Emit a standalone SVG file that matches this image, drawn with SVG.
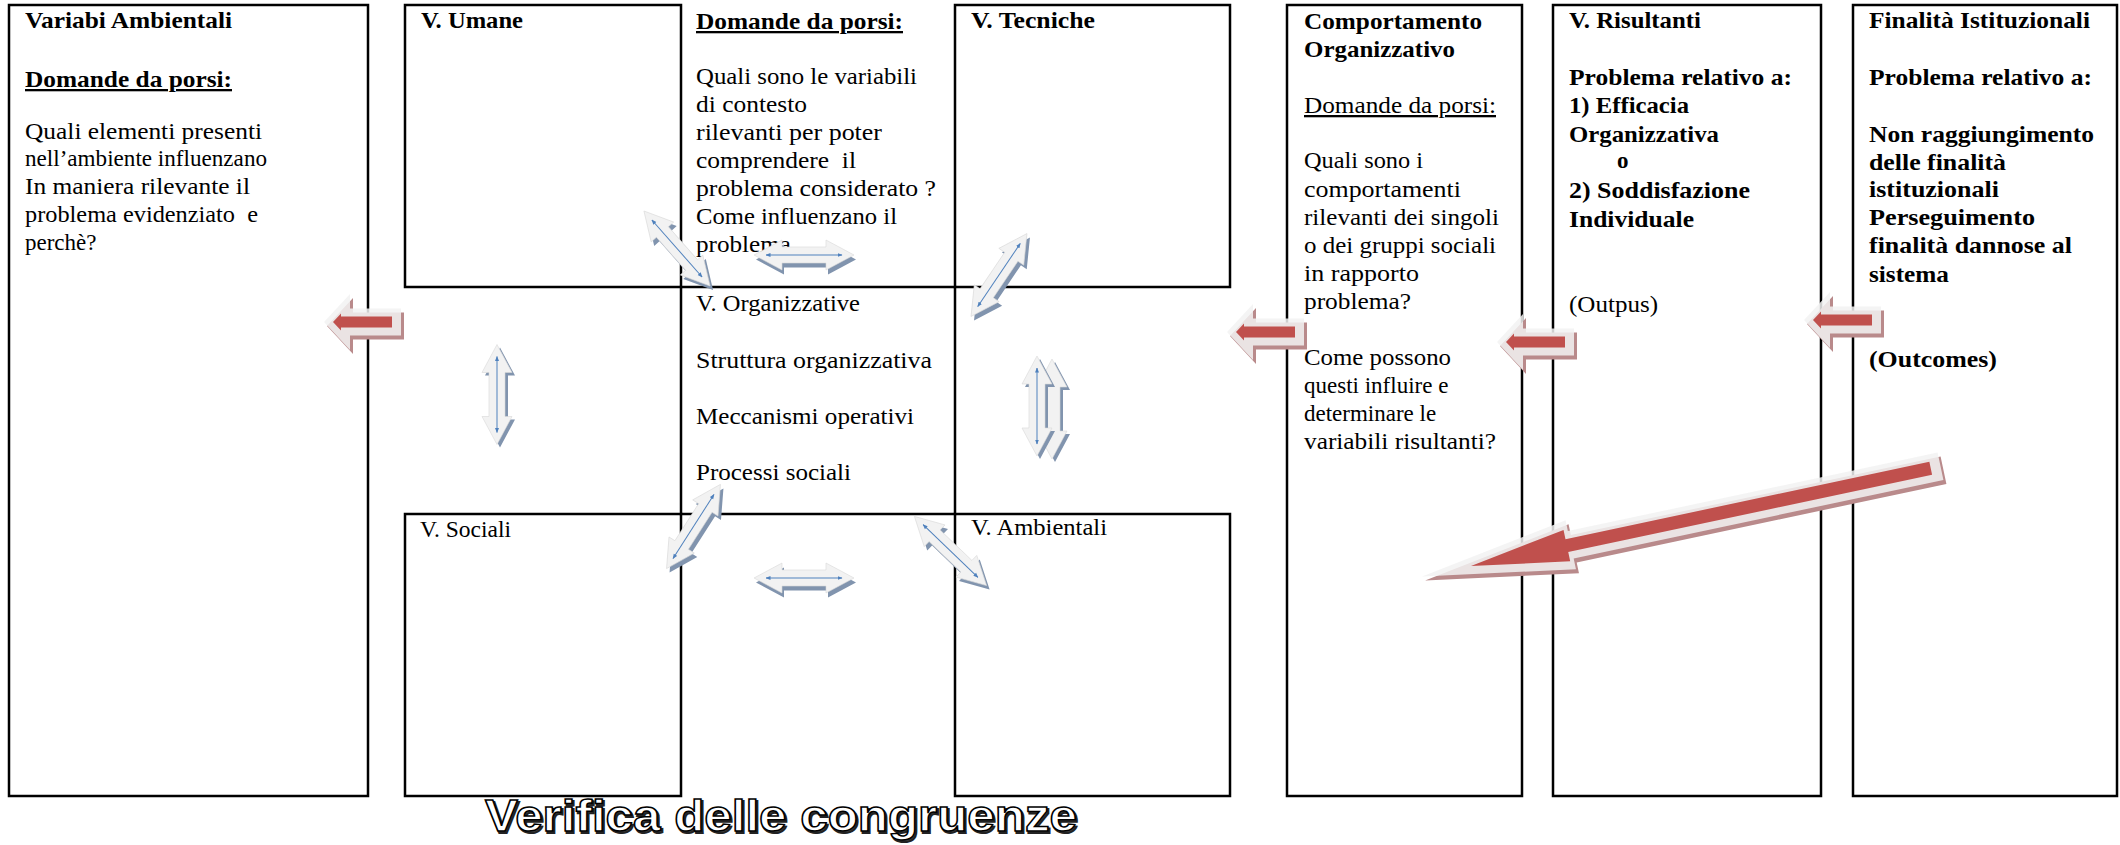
<svg xmlns="http://www.w3.org/2000/svg" xmlns:xlink="http://www.w3.org/1999/xlink" width="2120" height="845" viewBox="0 0 2120 845">
<style>
.bg{fill:#fff}
.box{fill:none;stroke:#000;stroke-width:2.5}
.t{font-family:"Liberation Serif","Times New Roman",serif;font-size:23px;fill:#000}
.b{font-weight:bold}
.u{text-decoration:underline}
.title{font-family:"Liberation Sans",Arial,sans-serif;font-weight:bold;font-size:45px}
.tf{fill:#fff;stroke:#000;stroke-width:1.5}
.ts{fill:#444;stroke:#222;stroke-width:2}
.gsh{fill:#8194ae}
.gface{fill:#f2f2f2;stroke:#d8d8d8;stroke-width:0.6}
.bl{stroke:#4f81bd;stroke-width:1;marker-start:url(#bh);marker-end:url(#bh)}
.rsh{fill:#b98a8b}
.rout{fill:#f2f2f2;fill-opacity:0.85}
.rin{fill:#c0504d}
</style>
<defs>
<marker id="bh" viewBox="0 0 10 10" refX="9" refY="5" markerWidth="5" markerHeight="5" orient="auto-start-reverse"><path d="M0,1 L10,5 L0,9 Z" fill="#4f81bd"/></marker>
<path id="dbl" d="M-50,0 L-22,-15 L-22,-8 L22,-8 L22,-15 L50,0 L22,15 L22,8 L-22,8 L-22,15 Z"/>
<path id="rl" d="M0,0 L26,-28 L26,-13.5 L77,-13.5 L77,13.5 L26,13.5 L26,28 Z"/>
<g id="redL">
<use href="#rl" class="rsh" transform="translate(3,4)"/>
<use href="#rl" class="rout"/>
<path class="rin" d="M9,0 L17,-8.5 L17,-5.5 L68,-5.5 L68,5.5 L17,5.5 L17,8.5 Z"/>
</g>
</defs>
<rect class="bg" x="0" y="0" width="2120" height="845"/>

<g id="node-variabili-ambientali">
<rect class="box" x="9" y="5" width="359" height="791"/>
<text class="t b" x="25" y="28" textLength="207" lengthAdjust="spacingAndGlyphs">Variabi Ambientali</text>
<text class="t b u" x="25" y="87" textLength="207" lengthAdjust="spacingAndGlyphs">Domande da porsi:</text>
<text class="t" x="25" y="139" textLength="237" lengthAdjust="spacingAndGlyphs">Quali elementi presenti</text>
<text class="t" x="25" y="166" textLength="242" lengthAdjust="spacingAndGlyphs">nell’ambiente influenzano</text>
<text class="t" x="25" y="194" textLength="225" lengthAdjust="spacingAndGlyphs">In maniera rilevante il</text>
<text class="t" x="25" y="222" textLength="233" lengthAdjust="spacingAndGlyphs" xml:space="preserve">problema evidenziato  e</text>
<text class="t" x="25" y="250">perchè?</text>
</g>

<g id="node-v-umane">
<rect class="box" x="405" y="5" width="276" height="282"/>
<text class="t b" x="421" y="28" textLength="102" lengthAdjust="spacingAndGlyphs">V. Umane</text>
</g>

<g id="node-domande-contesto">
<text class="t b u" x="696" y="29" textLength="207" lengthAdjust="spacingAndGlyphs">Domande da porsi:</text>
<text class="t" x="696" y="84" textLength="221" lengthAdjust="spacingAndGlyphs">Quali sono le variabili</text>
<text class="t" x="696" y="112" textLength="111" lengthAdjust="spacingAndGlyphs">di contesto</text>
<text class="t" x="696" y="140" textLength="186" lengthAdjust="spacingAndGlyphs">rilevanti per poter</text>
<text class="t" x="696" y="168" textLength="160" lengthAdjust="spacingAndGlyphs" xml:space="preserve">comprendere  il</text>
<text class="t" x="696" y="196" textLength="240" lengthAdjust="spacingAndGlyphs">problema considerato ?</text>
<text class="t" x="696" y="224" textLength="201" lengthAdjust="spacingAndGlyphs">Come influenzano il</text>
<text class="t" x="696" y="252" textLength="95" lengthAdjust="spacingAndGlyphs">problema</text>
</g>

<g id="node-v-tecniche">
<rect class="box" x="955" y="5" width="275" height="282"/>
<text class="t b" x="971" y="28" textLength="124" lengthAdjust="spacingAndGlyphs">V. Tecniche</text>
</g>

<g id="node-v-organizzative">
<rect class="box" x="681" y="287" width="274" height="227"/>
<text class="t" x="696" y="311" textLength="164" lengthAdjust="spacingAndGlyphs">V. Organizzative</text>
<text class="t" x="696" y="368" textLength="236" lengthAdjust="spacingAndGlyphs">Struttura organizzativa</text>
<text class="t" x="696" y="424" textLength="218" lengthAdjust="spacingAndGlyphs">Meccanismi operativi</text>
<text class="t" x="696" y="480" textLength="155" lengthAdjust="spacingAndGlyphs">Processi sociali</text>
</g>

<g id="node-v-sociali">
<rect class="box" x="405" y="514" width="276" height="282"/>
<text class="t" x="420" y="537" textLength="91" lengthAdjust="spacingAndGlyphs">V. Sociali</text>
</g>

<g id="node-v-ambientali">
<rect class="box" x="955" y="514" width="275" height="282"/>
<text class="t" x="971" y="535" textLength="136" lengthAdjust="spacingAndGlyphs">V. Ambientali</text>
</g>

<g id="node-comportamento">
<rect class="box" x="1287" y="5" width="235" height="791"/>
<text class="t b" x="1304" y="29" textLength="178" lengthAdjust="spacingAndGlyphs">Comportamento</text>
<text class="t b" x="1304" y="57" textLength="151" lengthAdjust="spacingAndGlyphs">Organizzativo</text>
<text class="t u" x="1304" y="113" textLength="192" lengthAdjust="spacingAndGlyphs">Domande da porsi:</text>
<text class="t" x="1304" y="168" textLength="119" lengthAdjust="spacingAndGlyphs">Quali sono i</text>
<text class="t" x="1304" y="197" textLength="157" lengthAdjust="spacingAndGlyphs">comportamenti</text>
<text class="t" x="1304" y="225" textLength="195" lengthAdjust="spacingAndGlyphs">rilevanti dei singoli</text>
<text class="t" x="1304" y="253" textLength="192" lengthAdjust="spacingAndGlyphs">o dei gruppi sociali</text>
<text class="t" x="1304" y="281" textLength="115" lengthAdjust="spacingAndGlyphs">in rapporto</text>
<text class="t" x="1304" y="309" textLength="107" lengthAdjust="spacingAndGlyphs">problema?</text>
<text class="t" x="1304" y="365" textLength="147" lengthAdjust="spacingAndGlyphs">Come possono</text>
<text class="t" x="1304" y="393">questi influire e</text>
<text class="t" x="1304" y="421">determinare le</text>
<text class="t" x="1304" y="449" textLength="192" lengthAdjust="spacingAndGlyphs">variabili risultanti?</text>
</g>

<g id="node-v-risultanti">
<rect class="box" x="1553" y="5" width="268" height="791"/>
<text class="t b" x="1569" y="28" textLength="132" lengthAdjust="spacingAndGlyphs">V. Risultanti</text>
<text class="t b" x="1569" y="85" textLength="223" lengthAdjust="spacingAndGlyphs">Problema relativo a:</text>
<text class="t b" x="1569" y="113" textLength="120" lengthAdjust="spacingAndGlyphs">1) Efficacia</text>
<text class="t b" x="1569" y="142" textLength="150" lengthAdjust="spacingAndGlyphs">Organizzativa</text>
<text class="t b" x="1617" y="168">o</text>
<text class="t b" x="1569" y="198" textLength="181" lengthAdjust="spacingAndGlyphs">2) Soddisfazione</text>
<text class="t b" x="1569" y="227" textLength="125" lengthAdjust="spacingAndGlyphs">Individuale</text>
<text class="t" x="1569" y="312" textLength="89" lengthAdjust="spacingAndGlyphs">(Outpus)</text>
</g>

<g id="node-finalita">
<rect class="box" x="1853" y="5" width="264" height="791"/>
<text class="t b" x="1869" y="28" textLength="221" lengthAdjust="spacingAndGlyphs">Finalità Istituzionali</text>
<text class="t b" x="1869" y="85" textLength="223" lengthAdjust="spacingAndGlyphs">Problema relativo a:</text>
<text class="t b" x="1869" y="142" textLength="225" lengthAdjust="spacingAndGlyphs">Non raggiungimento</text>
<text class="t b" x="1869" y="170" textLength="137" lengthAdjust="spacingAndGlyphs">delle finalità</text>
<text class="t b" x="1869" y="197" textLength="130" lengthAdjust="spacingAndGlyphs">istituzionali</text>
<text class="t b" x="1869" y="225" textLength="166" lengthAdjust="spacingAndGlyphs">Perseguimento</text>
<text class="t b" x="1869" y="253" textLength="203" lengthAdjust="spacingAndGlyphs">finalità dannose al</text>
<text class="t b" x="1869" y="282" textLength="80" lengthAdjust="spacingAndGlyphs">sistema</text>
<text class="t b" x="1869" y="367" textLength="128" lengthAdjust="spacingAndGlyphs">(Outcomes)</text>
</g>

<g id="connectors">
<g id="arr-umane-org" transform="translate(677,248.5)">
<use href="#dbl" class="gsh" transform="translate(3,4) rotate(48.6)"/>
<use href="#dbl" class="gface" transform="rotate(48.6)"/>
<line class="bl" x1="-38" y1="0" x2="38" y2="0" transform="rotate(48.6)"/>
</g>
<g id="arr-umane-tecniche" transform="translate(804,255)">
<use href="#dbl" class="gsh" transform="translate(2,4.5)"/>
<use href="#dbl" class="gface"/>
<line class="bl" x1="-38" y1="0" x2="38" y2="0" stroke-width="0.5"/>
</g>
<g id="arr-tecniche-org" transform="translate(999,275)">
<use href="#dbl" class="gsh" transform="translate(3,4) rotate(-56)"/>
<use href="#dbl" class="gface" transform="rotate(-56)"/>
<line class="bl" x1="-38" y1="0" x2="38" y2="0" stroke-width="0.6" transform="rotate(-56)"/>
</g>
<g id="arr-umane-sociali" transform="translate(497,394.5)">
<use href="#dbl" class="gsh" transform="translate(3,3) rotate(90)"/>
<use href="#dbl" class="gface" transform="rotate(90)"/>
<line class="bl" x1="-38" y1="0" x2="38" y2="0" stroke-width="0.5" transform="rotate(90)"/>
</g>
<g id="arr-tecniche-ambientali">
<g transform="translate(1052,409)">
<use href="#dbl" class="gsh" transform="translate(3,3) rotate(90)"/>
<use href="#dbl" class="gface" transform="rotate(90)"/>
</g>
<g transform="translate(1037,406)">
<use href="#dbl" class="gsh" transform="translate(3,3) rotate(90)"/>
<use href="#dbl" class="gface" transform="rotate(90)"/>
<line class="bl" x1="-38" y1="0" x2="38" y2="0" transform="rotate(90)"/>
</g>
</g>
<g id="arr-org-sociali" transform="translate(693.5,526.5)">
<use href="#dbl" class="gsh" transform="translate(3,4) rotate(-57.4)"/>
<use href="#dbl" class="gface" transform="rotate(-57.4)"/>
<line class="bl" x1="-38" y1="0" x2="38" y2="0" transform="rotate(-57.4)"/>
</g>
<g id="arr-sociali-ambientali" transform="translate(804,578)">
<use href="#dbl" class="gsh" transform="translate(2,4.5)"/>
<use href="#dbl" class="gface"/>
<line class="bl" x1="-38" y1="0" x2="38" y2="0" stroke-width="1.4"/>
</g>
<g id="arr-org-ambientali" transform="translate(950.5,551)">
<use href="#dbl" class="gsh" transform="translate(3,4) rotate(43.8)"/>
<use href="#dbl" class="gface" transform="rotate(43.8)"/>
<line class="bl" x1="-38" y1="0" x2="38" y2="0" stroke-width="0.6" transform="rotate(43.8)"/>
</g>
<use id="arr-umane-ambiente" href="#redL" transform="translate(324,322)"/>
<use id="arr-comportamento-grid" href="#redL" transform="translate(1227,332)"/>
<use id="arr-risultanti-comportamento" href="#redL" transform="translate(1497,342)"/>
<use id="arr-finalita-risultanti" href="#redL" transform="translate(1804,320)"/>
<g id="arr-finalita-comportamento">
<path class="rsh" transform="translate(1474,570) rotate(-12)" d="M-50,0 L102,-25 L102,-14 L480,-14 L480,14 L102,14 L102,25 Z"/>
<path class="rout" transform="translate(1471,566) rotate(-12)" d="M-50,0 L102,-25 L102,-14 L480,-14 L480,14 L102,14 L102,25 Z"/>
<path class="rin" transform="translate(1471,566) rotate(-12)" d="M0,0 L98,-16 L98,-6.6 L470,-6.6 L470,6.6 L98,6.6 L98,16 Z"/>
</g>
</g>

<g id="node-verifica">
<text class="title ts" x="486.5" y="832.5" textLength="592" lengthAdjust="spacingAndGlyphs">Verifica delle congruenze</text>
<text class="title tf" x="485" y="831" textLength="592" lengthAdjust="spacingAndGlyphs">Verifica delle congruenze</text>
</g>
</svg>
